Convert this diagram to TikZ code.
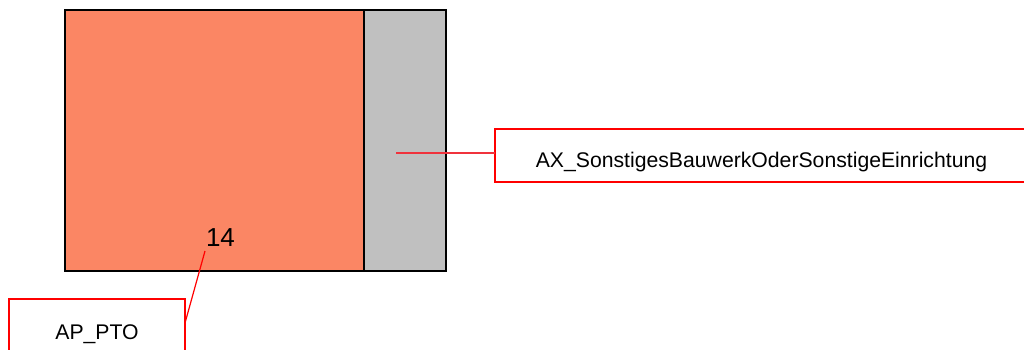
\documentclass[tikz,border=0pt]{standalone}
\usepackage{fontspec}
\setmainfont{Liberation Sans}
\definecolor{salmonfill}{RGB}{251,134,100}
\definecolor{grayfill}{RGB}{192,192,192}
\definecolor{lblred}{RGB}{240,50,60}
\begin{document}
\begin{tikzpicture}[x=1pt,y=-1pt,
  parcel/.style={draw=black,line width=2pt,inner sep=0pt,outer sep=0pt},
  lblbox/.style={draw=red,fill=white,line width=1.2pt,inner sep=0pt,outer sep=0pt,font=\fontsize{21.2}{21.2}\selectfont},
  leader/.style={draw=lblred,line width=1.2pt}]
\useasboundingbox (0,0) rectangle (1024,349);
\begin{scope}
\clip (0,0) rectangle (1024,349);
\node[parcel,fill=salmonfill,minimum width=299pt,minimum height=261pt] (orange) at (214.5,140.5) {};
\node[parcel,fill=grayfill,minimum width=82pt,minimum height=261pt] (gray) at (405,140.5) {};
\node[font=\fontsize{26}{26}\selectfont,inner sep=0pt] (num) at (220.5,236) {\raisebox{-10.5pt}[0pt][0pt]{14}};
\node[lblbox,minimum width=545pt,minimum height=53pt] (ax) at (767.5,155.5) {\raisebox{-11.8pt}[0pt][0pt]{AX\_SonstigesBauwerkOderSonstigeEinrichtung}\hspace*{12pt}};
\node[lblbox,minimum width=176pt,minimum height=70pt] (ap) at (97,334) {\raisebox{-5pt}[0pt][0pt]{AP\_PTO}};
\coordinate (axanchor) at (396,153);
\coordinate (apanchor) at (205,251);
\draw[leader] (axanchor) -- (ax.west |- axanchor);
\draw[leader,draw=red] (apanchor) -- ([yshift=11pt]ap.east);
\end{scope}
\end{tikzpicture}
\end{document}
